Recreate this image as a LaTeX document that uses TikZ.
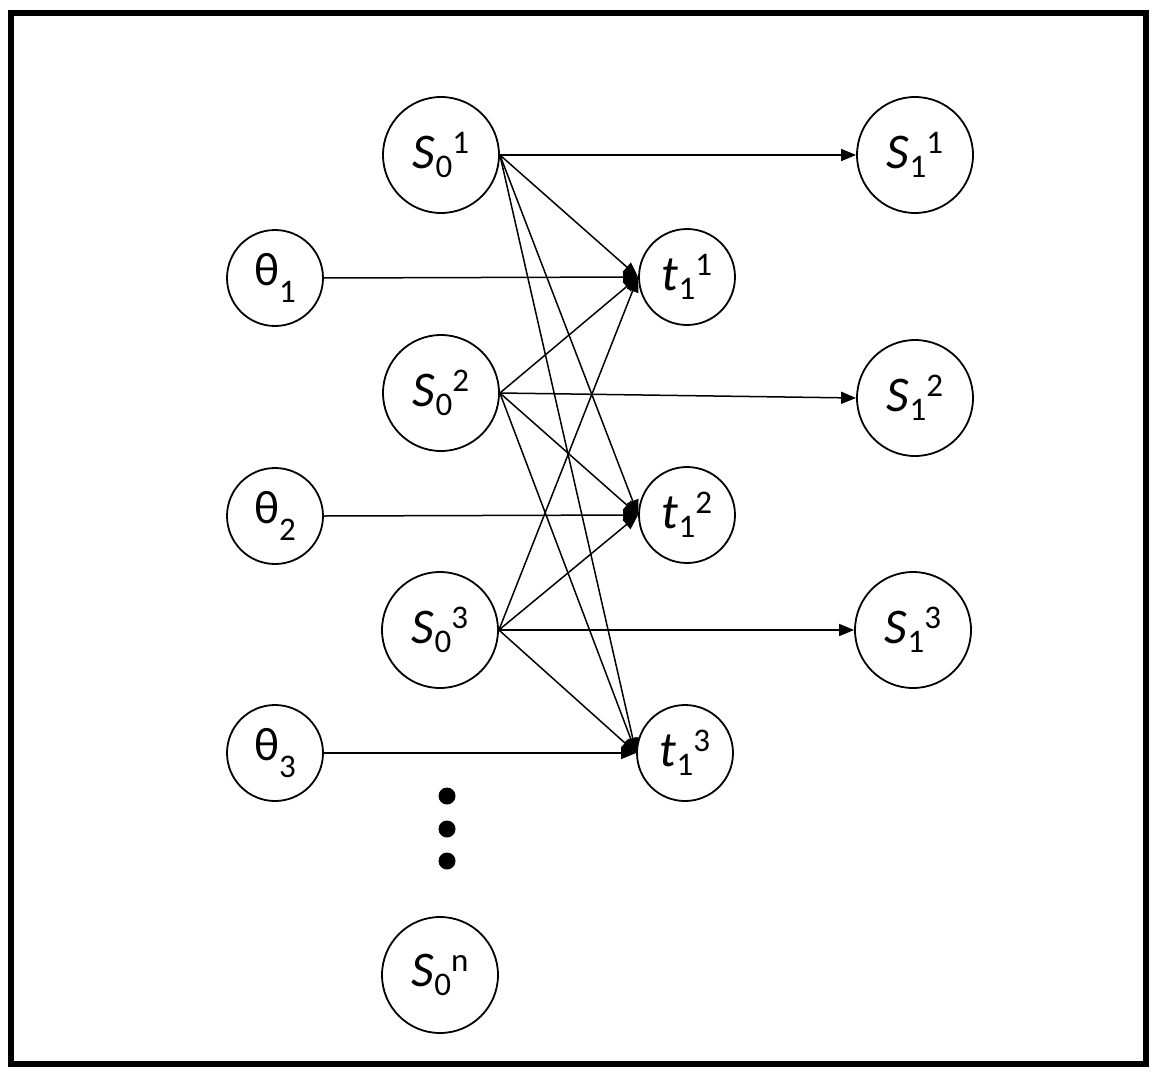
\documentclass[tikz,border=0pt]{standalone}
\usepackage{fontspec}
\setmainfont{Carlito}
\usetikzlibrary{arrows.meta}
\newcommand\mysub[2]{\raisebox{-#1pt}{\fontsize{33}{33}\selectfont #2}}
\newcommand\mysup[2]{\raisebox{#1pt}{\fontsize{33}{33}\selectfont #2}}
\newcommand\stt[3]{\fontsize{50}{50}\selectfont\textit{#1}\mysub{9}{#2}\mysup{15}{#3}}
\newcommand\thet[1]{\fontsize{47}{47}\selectfont θ\mysub{17}{#1}}
\begin{document}
\begin{tikzpicture}[x=1pt,y=-1pt,
  big/.style={circle,draw,line width=1.8pt,minimum size=116pt,inner sep=0pt},
  small/.style={circle,draw,line width=1.8pt,minimum size=96pt,inner sep=0pt},
  arr/.style={line width=1.5pt,-{Triangle[length=15pt,width=12pt]}},
  dotn/.style={circle,fill,minimum size=17pt,inner sep=0pt}]
\useasboundingbox (0,0) rectangle (1158,1078);
\draw[line width=6.5pt] (11,13) rectangle (1146,1064);
\node[big] (a1) at (441,155) {\stt{S}{0}{1}};
\node[big] (a2) at (441,393) {\stt{S}{0}{2}};
\node[big] (a3) at (440,630) {\stt{S}{0}{3}};
\node[big] (an) at (440,975) {\stt{S}{0}{n}};
\node[small] (h1) at (275,278) {\thet{1}};
\node[small] (h2) at (275,516) {\thet{2}};
\node[small] (h3) at (275,753) {\thet{3}};
\node[small] (t1) at (687,277) {\stt{t}{1}{1}};
\node[small] (t2) at (687,515) {\stt{t}{1}{2}};
\node[small] (t3) at (685,753) {\stt{t}{1}{3}};
\node[big] (b1) at (915,155) {\stt{S}{1}{1}};
\node[big] (b2) at (915,398) {\stt{S}{1}{2}};
\node[big] (b3) at (913,630) {\stt{S}{1}{3}};
\node[dotn] (d1) at (447,796) {};
\node[dotn] (d2) at (447,829) {};
\node[dotn] (d3) at (447,861) {};
\foreach \i in {1,2,3}{
  \draw[arr] (a\i.east) -- (b\i.west);
  \draw[arr] (h\i.east) -- (t\i.west);
  \foreach \j in {1,2,3}{
    \draw[arr] (a\i.east) -- (t\j.west);
  }
}
\end{tikzpicture}
\end{document}
